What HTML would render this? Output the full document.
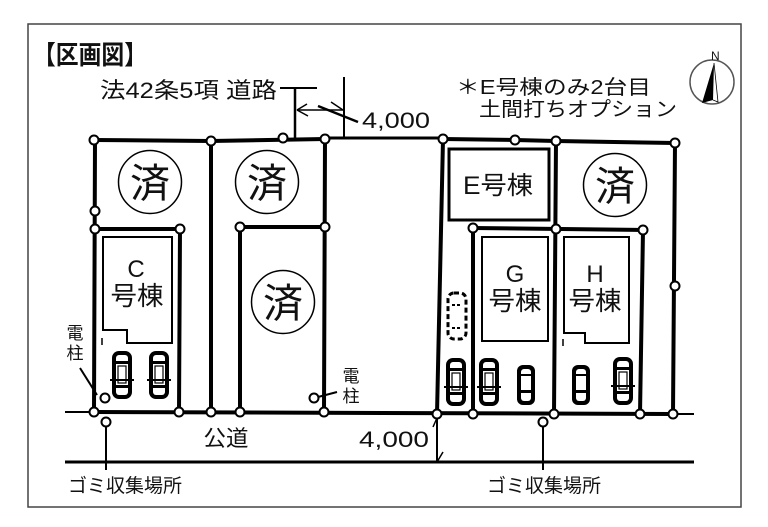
<!DOCTYPE html>
<html><head><meta charset="utf-8"><style>
html,body{margin:0;padding:0;background:#fff;}
svg{display:block;}
text{font-family:"Liberation Sans","Noto Sans CJK JP",sans-serif;fill:#111;}
</style></head><body>
<svg width="768" height="527" viewBox="0 0 768 527" xmlns="http://www.w3.org/2000/svg">
<defs>
<g id="car">
<rect x="0" y="0" width="20" height="48" rx="7" fill="#000"/>
<rect x="4" y="4" width="12" height="40" rx="3" fill="#fff"/>
<rect x="3" y="10" width="14" height="3" fill="#000"/>
<rect x="3" y="34" width="14" height="3" fill="#000"/>
<rect x="6" y="15" width="8" height="17" fill="none" stroke="#000" stroke-width="1.2"/>
<rect x="-2" y="28" width="24" height="2" fill="#000"/>
</g>
<g id="scar">
<rect x="0" y="0" width="18" height="40" rx="6" fill="#000"/>
<rect x="4" y="4" width="10" height="32" rx="3" fill="#fff"/>
<rect x="3" y="25" width="12" height="3" fill="#000"/>
<rect x="3" y="9" width="12" height="2" fill="#000"/>
</g>
</defs>

<!-- border -->
<rect x="28" y="24" width="713" height="483" fill="#fff" stroke="#444" stroke-width="1.5"/>

<!-- title -->
<text x="33" y="64" font-size="26" font-weight="bold" textLength="114" lengthAdjust="spacingAndGlyphs">【区画図】</text>

<!-- road label -->
<text x="100" y="98" font-size="22" textLength="177" lengthAdjust="spacingAndGlyphs">法42条5項 道路</text>
<line x1="280" y1="88" x2="317" y2="88" stroke="#000" stroke-width="2"/>
<line x1="295" y1="88" x2="295" y2="139" stroke="#000" stroke-width="2.5"/>
<line x1="344" y1="77" x2="344" y2="139" stroke="#000" stroke-width="2"/>
<line x1="297" y1="110" x2="343" y2="110" stroke="#000" stroke-width="1.5"/>
<line x1="297" y1="110" x2="307" y2="104" stroke="#000" stroke-width="1.5"/>
<line x1="297" y1="110" x2="308" y2="116" stroke="#000" stroke-width="1.5"/>
<line x1="343" y1="110" x2="331" y2="102" stroke="#000" stroke-width="1.5"/>
<line x1="318" y1="106" x2="358" y2="122" stroke="#000" stroke-width="2.5"/>
<text x="362" y="128" font-size="22" textLength="68" lengthAdjust="spacingAndGlyphs">4,000</text>

<!-- note -->
<text x="456" y="94" font-size="20" textLength="195" lengthAdjust="spacingAndGlyphs">＊E号棟のみ2台目</text>
<text x="479" y="116" font-size="20" textLength="198" lengthAdjust="spacingAndGlyphs">土間打ちオプション</text>

<!-- compass -->
<circle cx="712" cy="82" r="22" fill="none" stroke="#555" stroke-width="1.5"/>
<text x="711" y="60" font-size="12">N</text>
<polygon points="714,63 702,103 713,100" fill="#000"/>
<polyline points="714,63 718,102 713,100" fill="none" stroke="#000" stroke-width="0.8"/>

<!-- houses -->
<polygon points="103,237 172,237 172,343 127,343 127,330 103,330" fill="none" stroke="#000" stroke-width="2"/>
<line x1="102" y1="338" x2="102" y2="345" stroke="#000" stroke-width="1.5"/>
<rect x="449" y="149" width="100" height="71" fill="none" stroke="#000" stroke-width="3"/>
<rect x="482" y="237" width="66" height="104" fill="none" stroke="#000" stroke-width="2"/>
<polygon points="564,237 629,237 629,343 585,343 585,333 564,333" fill="none" stroke="#000" stroke-width="2"/>
<line x1="563" y1="339" x2="563" y2="346" stroke="#000" stroke-width="1.5"/>

<!-- lot lines -->
<g stroke="#000" stroke-width="4" fill="none" stroke-linecap="round">
<polyline points="94,140 211,141 325,139"/>
<polyline points="443,139 515,140 556,141 675,143"/>
<line x1="95" y1="140" x2="94" y2="412"/>
<line x1="95" y1="229" x2="180" y2="229"/>
<line x1="180" y1="229" x2="179" y2="412"/>
<line x1="211" y1="141" x2="211" y2="412"/>
<line x1="240" y1="227" x2="325" y2="227"/>
<line x1="240" y1="227" x2="240" y2="412"/>
<line x1="325" y1="139" x2="324" y2="412"/>
<line x1="443" y1="139" x2="437" y2="414"/>
<line x1="556" y1="141" x2="554" y2="414"/>
<line x1="473" y1="228" x2="643" y2="230"/>
<line x1="473" y1="228" x2="473" y2="414"/>
<line x1="643" y1="230" x2="640" y2="414"/>
<line x1="675" y1="143" x2="673" y2="414"/>
<line x1="94" y1="412" x2="673" y2="414"/>
</g>
<line x1="325" y1="138" x2="443" y2="138" stroke="#000" stroke-width="3"/>
<line x1="65" y1="412" x2="94" y2="412" stroke="#000" stroke-width="2"/>
<line x1="673" y1="414" x2="694" y2="414" stroke="#000" stroke-width="2"/>
<line x1="65" y1="462" x2="694" y2="462" stroke="#000" stroke-width="3"/>

<!-- lower dimension -->
<line x1="437" y1="414" x2="437" y2="462" stroke="#000" stroke-width="2"/>
<line x1="437" y1="418" x2="433" y2="427" stroke="#000" stroke-width="1.5"/>
<line x1="437" y1="462" x2="443" y2="452" stroke="#000" stroke-width="1.5"/>
<text x="359" y="447" font-size="22" textLength="70" lengthAdjust="spacingAndGlyphs">4,000</text>

<!-- garbage lines -->
<line x1="106" y1="422" x2="106" y2="470" stroke="#000" stroke-width="2"/>
<line x1="543" y1="422" x2="543" y2="470" stroke="#000" stroke-width="2"/>

<!-- pole leaders -->
<line x1="80" y1="368" x2="97" y2="395" stroke="#000" stroke-width="2"/>
<line x1="318" y1="397" x2="337" y2="392" stroke="#000" stroke-width="2"/>

<!-- sumi circles -->
<g fill="none" stroke="#000" stroke-width="1.5">
<circle cx="150" cy="182" r="31.5"/>
<circle cx="267" cy="182" r="31.5"/>
<circle cx="615" cy="185" r="31.5"/>
<circle cx="283" cy="302" r="31.5"/>
</g>
<g font-size="40" text-anchor="middle">
<text x="150" y="197">済</text>
<text x="267" y="197">済</text>
<text x="615" y="200">済</text>
<text x="283" y="317">済</text>
</g>

<!-- house labels -->
<g text-anchor="middle">
<text x="136" y="277" font-size="24">C</text>
<text x="137" y="305" font-size="26" textLength="53" lengthAdjust="spacingAndGlyphs">号棟</text>
<text x="498" y="194" font-size="25" textLength="70" lengthAdjust="spacingAndGlyphs">E号棟</text>
<text x="515" y="282" font-size="24">G</text>
<text x="515" y="310" font-size="26" textLength="53" lengthAdjust="spacingAndGlyphs">号棟</text>
<text x="595" y="282" font-size="24">H</text>
<text x="595" y="310" font-size="26" textLength="53" lengthAdjust="spacingAndGlyphs">号棟</text>
<text x="75" y="339" font-size="17">電</text>
<text x="75" y="359" font-size="17">柱</text>
<text x="351" y="382" font-size="17">電</text>
<text x="351" y="402" font-size="17">柱</text>
<text x="226" y="446" font-size="22" textLength="45" lengthAdjust="spacingAndGlyphs">公道</text>
</g>
<text x="68" y="492" font-size="19" textLength="114" lengthAdjust="spacingAndGlyphs">ゴミ収集場所</text>
<text x="487" y="492" font-size="19" textLength="114" lengthAdjust="spacingAndGlyphs">ゴミ収集場所</text>

<!-- cars -->
<use href="#car" x="112" y="351"/>
<use href="#car" x="149" y="351"/>
<use href="#car" x="446" y="358"/>
<use href="#car" x="479" y="358"/>
<use href="#scar" x="517" y="365"/>
<use href="#scar" x="572" y="365"/>
<use href="#car" x="613" y="357"/>
<rect x="448" y="293" width="18" height="46" rx="6" fill="none" stroke="#000" stroke-width="3" stroke-dasharray="5,3"/>
<line x1="452" y1="305" x2="462" y2="305" stroke="#000" stroke-width="2" stroke-dasharray="3,2"/>
<line x1="452" y1="328" x2="462" y2="328" stroke="#000" stroke-width="2" stroke-dasharray="3,2"/>

<!-- nodes -->
<g fill="#fff" stroke="#000" stroke-width="2">
<circle cx="94" cy="140" r="4.5"/>
<circle cx="211" cy="141" r="4.5"/>
<circle cx="283" cy="138" r="4.5"/>
<circle cx="325" cy="139" r="4.5"/>
<circle cx="95" cy="211" r="4.5"/>
<circle cx="95" cy="229" r="4.5"/>
<circle cx="180" cy="229" r="4.5"/>
<circle cx="240" cy="227" r="4.5"/>
<circle cx="325" cy="227" r="4.5"/>
<circle cx="443" cy="139" r="4.5"/>
<circle cx="515" cy="140" r="4.5"/>
<circle cx="556" cy="141" r="4.5"/>
<circle cx="675" cy="143" r="4.5"/>
<circle cx="473" cy="228" r="4.5"/>
<circle cx="556" cy="229" r="4.5"/>
<circle cx="643" cy="230" r="4.5"/>
<circle cx="675" cy="286" r="4.5"/>
<circle cx="94" cy="412" r="4.5"/>
<circle cx="179" cy="412" r="4.5"/>
<circle cx="211" cy="412" r="4.5"/>
<circle cx="240" cy="412" r="4.5"/>
<circle cx="324" cy="412" r="4.5"/>
<circle cx="437" cy="414" r="4.5"/>
<circle cx="473" cy="414" r="4.5"/>
<circle cx="554" cy="414" r="4.5"/>
<circle cx="640" cy="414" r="4.5"/>
<circle cx="673" cy="414" r="4.5"/>
<circle cx="106" cy="422" r="4.5"/>
<circle cx="543" cy="422" r="4.5"/>
<circle cx="105" cy="398" r="4.5"/>
<circle cx="314" cy="398" r="4.5"/>
</g>
</svg>
</body></html>
